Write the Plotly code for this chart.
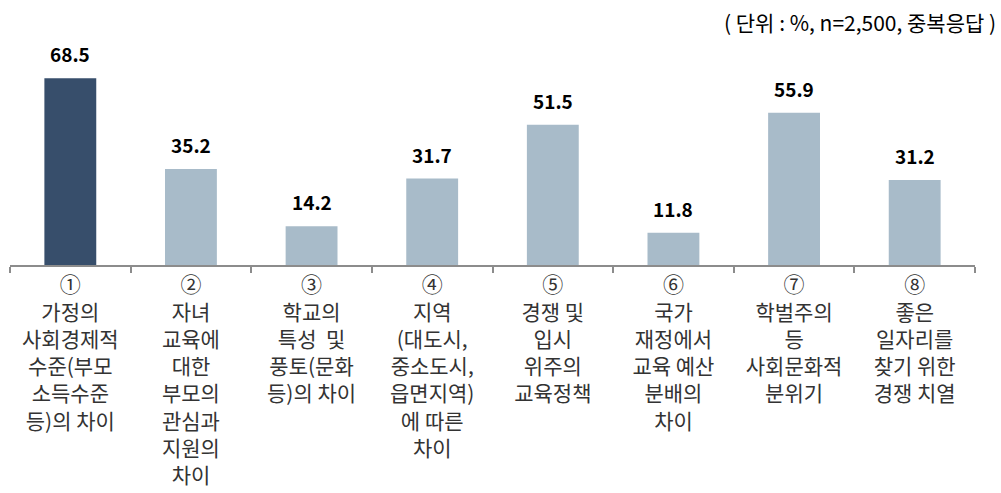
import plotly.graph_objects as go

categories = [
    "①<br>가정의<br>사회경제적<br>수준(부모<br>소득수준<br>등)의 차이",
    "②<br>자녀<br>교육에<br>대한<br>부모의<br>관심과<br>지원의<br>차이",
    "③<br>학교의<br>특성  및<br>풍토(문화<br>등)의 차이",
    "④<br>지역<br>(대도시,<br>중소도시,<br>읍면지역)<br>에 따른<br>차이",
    "⑤<br>경쟁 및<br>입시<br>위주의<br>교육정책",
    "⑥<br>국가<br>재정에서<br>교육 예산<br>분배의<br>차이",
    "⑦<br>학벌주의<br>등<br>사회문화적<br>분위기",
    "⑧<br>좋은<br>일자리를<br>찾기 위한<br>경쟁 치열",
]
values = [68.5, 35.2, 14.2, 31.7, 51.5, 11.8, 55.9, 31.2]
bar_colors = ["#374E6B"] + ["#A8BBC9"] * 7
unit_text = "( 단위 : %, n=2,500, 중복응답 )"

FONT = "Noto Sans CJK KR"

fig = go.Figure()
fig.add_trace(go.Bar(
    x=categories, y=values,
    marker=dict(color=bar_colors, line=dict(width=0)),
    width=0.43,
    hoverinfo="skip",
))

for c, v in zip(categories, values):
    fig.add_annotation(
        x=c, y=v, text=f"<b>{v:.1f}</b>", showarrow=False,
        yanchor="bottom", yshift=9,
        font=dict(family=FONT, size=19, color="#000000"),
    )

fig.add_annotation(
    xref="paper", yref="paper", x=1.0 + 23/965, y=1.0 + 25/218,
    xanchor="right", yanchor="middle", text=unit_text, showarrow=False,
    font=dict(family=FONT, size=21, color="#000000"),
)

fig.update_layout(
    width=1001, height=493,
    margin=dict(l=10, r=26, t=47, b=228, pad=0, autoexpand=False),
    paper_bgcolor="white", plot_bgcolor="white",
    showlegend=False,
    font=dict(family=FONT, color="#333333"),
    xaxis=dict(
        type="category", automargin=False,
        showline=True, linecolor="#8C8C8C", linewidth=2,
        ticks="outside", tickson="boundaries", ticklen=6, tickcolor="#8C8C8C", tickwidth=2,
        tickfont=dict(family=FONT, size=21, color="#333333"),
        showgrid=False, zeroline=False, tickangle=0,
    ),
    yaxis=dict(
        range=[0, 80], visible=False, showgrid=False, zeroline=False, automargin=False,
    ),
)

fig.write_html("out.html")
